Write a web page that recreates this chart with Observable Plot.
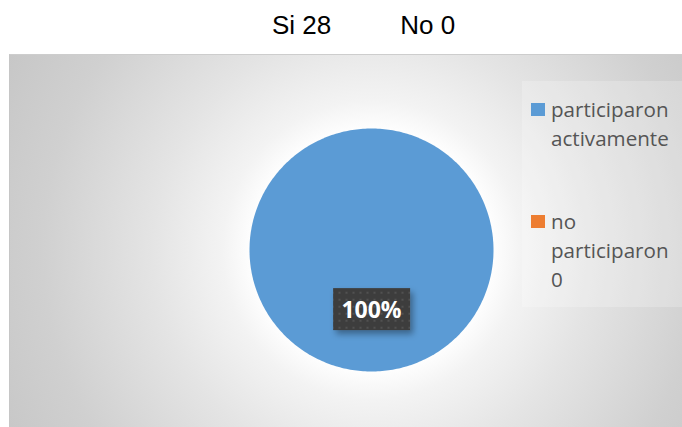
<!DOCTYPE html>
<html>
<head>
<meta charset="utf-8">
<script src="https://cdn.jsdelivr.net/npm/d3@7"></script>
<script src="https://cdn.jsdelivr.net/npm/@observablehq/plot@0.6"></script>
<style>
  html, body { margin: 0; padding: 0; background: #ffffff; }
  #wrap { position: relative; width: 682px; height: 427px; overflow: hidden; }
  #title { position: absolute; left: 0; top: 10px; width: 682px; padding-left: 45px; box-sizing: border-box;
           text-align: center; font-family: "Liberation Sans", Arial, sans-serif; font-size: 26px; line-height: 30px; color: #000; }
  #title span + span { margin-left: 69px; }
  #bg { position: absolute; left: 9px; top: 54px; width: 673px; height: 373px; box-sizing: border-box;
        border-top: 1px solid #cdcdcd; border-left: 1px solid #c6c6c6;
        background: radial-gradient(circle at 362px 195px, #ffffff 0px, #ffffff 118px, #f3f3f3 150px, #e4e4e4 220px, #d0d0d0 330px, #c6c6c6 420px); }
  #legbox { position: absolute; left: 522px; top: 81px; width: 160px; height: 226px; background: rgba(255,255,255,0.22); }
  #plot { position: absolute; left: 0; top: 0; }
  #legend { position: absolute; left: 531px; top: 0; }
  .item { position: absolute; left: 0; width: 150px; }
  .sw { position: absolute; left: 0; width: 14px; height: 13px; }
  .lt { position: absolute; left: 20px; width: 130px; font-family: "Open Sans", sans-serif; font-size: 20.6px; line-height: 29px; color: #555555; }
</style>
</head>
<body>
<div id="wrap">
  <div id="bg"></div>
  <div id="legbox"></div>
  <div id="title"></div>
  <div id="plot"></div>
  <div id="legend"></div>
</div>
<script>
// ---- data ----
const titleCategories = ["Si", "No"];
const titleCounts = [28, 0];
const categories = ["participaron activamente", "no participaron 0"];
const values = [28, 0];
const colors = ["#5B9BD5", "#ED7D31"];

// ---- title ----
const titleEl = document.getElementById("title");
titleCategories.forEach((c, i) => {
  const s = document.createElement("span");
  s.textContent = c + " " + titleCounts[i];
  titleEl.appendChild(s);
});

// ---- pie geometry (unit circle, via d3.pie) ----
const total = d3.sum(values);
const arcs = d3.pie().sort(null).value(d => d.value)(categories.map((c, i) => ({category: c, value: values[i]})));
const pts = [];
arcs.forEach(a => {
  const n = Math.max(2, Math.ceil((a.endAngle - a.startAngle) / (Math.PI / 180)));
  if (a.endAngle - a.startAngle < 1e-9) return;
  const full = (a.endAngle - a.startAngle) >= 2 * Math.PI - 1e-9;
  if (!full) pts.push({category: a.data.category, x: 0, y: 0});
  for (let k = 0; k <= n; k++) {
    const t = a.startAngle + (a.endAngle - a.startAngle) * k / n;
    pts.push({category: a.data.category, x: Math.sin(t), y: Math.cos(t)});
  }
});
const labels = arcs.filter(a => a.value > 0).map(a => {
  const mid = (a.startAngle + a.endAngle) / 2;
  return {x: 0.5 * Math.sin(mid), y: 0.5 * Math.cos(mid), text: Math.round(a.value / total * 100) + "%"};
});

const chart = Plot.plot({
  width: 682,
  height: 427,
  marginLeft: 249,
  marginRight: 189,
  marginTop: 128,
  marginBottom: 56,
  style: {background: "transparent", overflow: "visible"},
  x: {domain: [-1, 1], axis: null},
  y: {domain: [-1, 1], axis: null},
  color: {domain: categories, range: colors},
  marks: [
    Plot.line(pts, {x: "x", y: "y", z: "category", fill: "category", stroke: "none", curve: "linear-closed"}),
    Plot.text(labels, {x: "x", y: "y", text: "text", fill: "#ffffff", fontSize: 23, fontWeight: "bold",
                       fontFamily: "'Open Sans', sans-serif", className: "pct-label"})
  ]
});
document.getElementById("plot").appendChild(chart);

// label background boxes (size from measured text)
const svgns = "http://www.w3.org/2000/svg";
const defs = document.createElementNS(svgns, "defs");
defs.innerHTML = `
  <pattern id="dots" width="7" height="7" patternUnits="userSpaceOnUse">
    <rect width="7" height="7" fill="#3d3d3d"/>
    <rect x="2" y="2" width="2" height="2" fill="#515151"/>
  </pattern>
  <filter id="shadow" x="-20%" y="-20%" width="150%" height="160%">
    <feDropShadow dx="3" dy="4" stdDeviation="3" flood-color="#000" flood-opacity="0.35"/>
  </filter>`;
chart.insertBefore(defs, chart.firstChild);
chart.querySelectorAll("g.pct-label text").forEach(t => {
  const b = t.getBBox();
  const r = document.createElementNS(svgns, "rect");
  r.setAttribute("x", b.x + b.width / 2 - 38.5);
  r.setAttribute("y", b.y + b.height / 2 - 21);
  r.setAttribute("width", 77);
  r.setAttribute("height", 42);
  r.setAttribute("fill", "url(#dots)");
  r.setAttribute("filter", "url(#shadow)");
  const tr = t.getAttribute("transform");
  if (tr) r.setAttribute("transform", tr);
  t.parentNode.insertBefore(r, t);
});

// ---- legend ----
const legend = document.getElementById("legend");
const itemTops = [94.5, 206.5];
categories.forEach((c, i) => {
  const it = document.createElement("div");
  it.className = "item";
  it.style.top = itemTops[i] + "px";
  const sw = document.createElement("div");
  sw.className = "sw";
  sw.style.top = "8.5px";
  sw.style.background = colors[i];
  const lt = document.createElement("div");
  lt.className = "lt";
  lt.style.top = "0px";
  lt.textContent = c;
  it.appendChild(sw);
  it.appendChild(lt);
  legend.appendChild(it);
});
</script>
</body>
</html>
